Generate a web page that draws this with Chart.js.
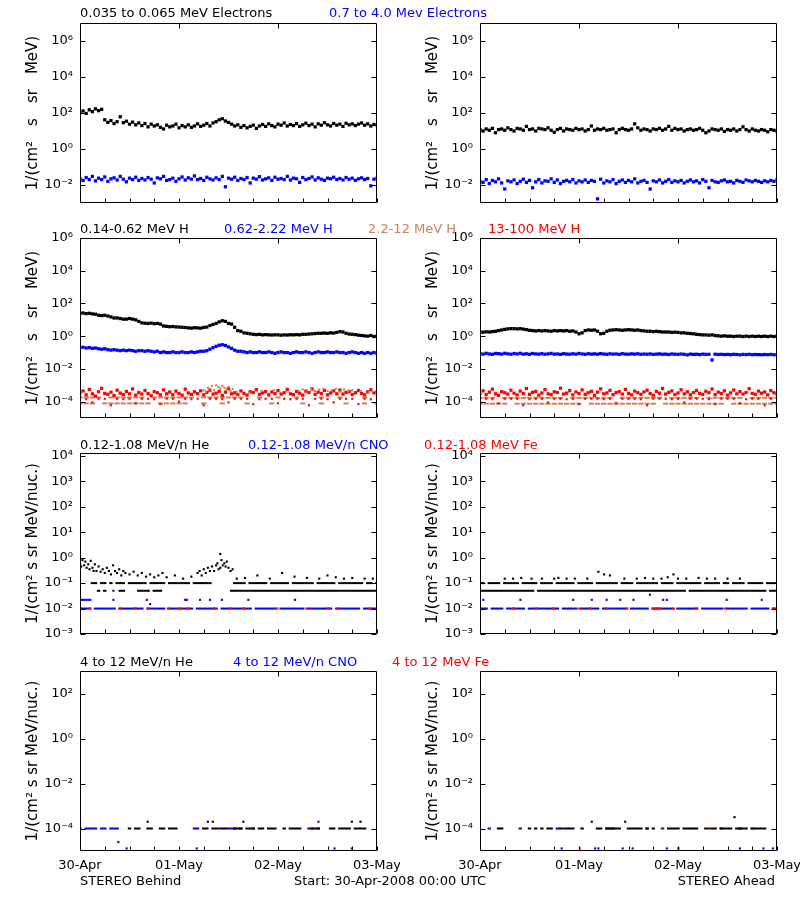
<!DOCTYPE html>
<html>
<head>
<meta charset="utf-8">
<script src="https://cdn.jsdelivr.net/npm/chart.js@4.4.1/dist/chart.umd.min.js"></script>
<style>
  body { margin: 0; background: #fff; }
  #page { position: relative; width: 800px; height: 900px; overflow: hidden;
          font-family: 'DejaVu Sans', sans-serif; font-size: 13px; color: #000; }
  canvas { position: absolute; }
  .lbl { position: absolute; white-space: pre; line-height: 16px; z-index: 2; }
</style>
</head>
<body>
<div id="page">
  <canvas id="c1B" width="400" height="202" style="left:0;top:13px"></canvas>
  <canvas id="c1A" width="400" height="202" style="left:400px;top:13px"></canvas>
  <canvas id="c2B" width="400" height="202" style="left:0;top:228px"></canvas>
  <canvas id="c2A" width="400" height="202" style="left:400px;top:228px"></canvas>
  <canvas id="c3B" width="400" height="203" style="left:0;top:443px"></canvas>
  <canvas id="c3A" width="400" height="203" style="left:400px;top:443px"></canvas>
  <canvas id="c4B" width="400" height="225" style="left:0;top:661px"></canvas>
  <canvas id="c4A" width="400" height="225" style="left:400px;top:661px"></canvas>

  <div class="lbl" style="left:80px;top:5px">0.035 to 0.065 MeV Electrons</div>
  <div class="lbl" style="left:329px;top:5px;color:#0000ff">0.7 to 4.0 Mev Electrons</div>

  <div class="lbl" style="left:80px;top:221px">0.14-0.62 MeV H</div>
  <div class="lbl" style="left:224px;top:221px;color:#0000ff">0.62-2.22 MeV H</div>
  <div class="lbl" style="left:368px;top:221px;color:rgb(205,128,96)">2.2-12 MeV H</div>
  <div class="lbl" style="left:488px;top:221px;color:#ff0000">13-100 MeV H</div>

  <div class="lbl" style="left:80px;top:437px">0.12-1.08 MeV/n He</div>
  <div class="lbl" style="left:248px;top:437px;color:#0000ff">0.12-1.08 MeV/n CNO</div>
  <div class="lbl" style="left:424px;top:437px;color:#ff0000">0.12-1.08 MeV Fe</div>

  <div class="lbl" style="left:80px;top:654px">4 to 12 MeV/n He</div>
  <div class="lbl" style="left:233px;top:654px;color:#0000ff">4 to 12 MeV/n CNO</div>
  <div class="lbl" style="left:392px;top:654px;color:#ff0000">4 to 12 MeV Fe</div>

  <div class="lbl" style="left:80px;top:873px">STEREO Behind</div>
  <div class="lbl" style="left:294px;top:873px">Start: 30-Apr-2008 00:00 UTC</div>
  <div class="lbl" style="right:25px;top:873px">STEREO Ahead</div>
</div>
<script>
// time axis: hours since 30-Apr-2008 00:00
const H = 72;
const dateLabels = ['30-Apr', '01-May', '02-May', '03-May'];
const xTickHours = [0, 6, 12, 18, 24, 30, 36, 42, 48, 54, 60, 66, 72];

// ---- row 1 : electrons (B = Behind, A = Ahead), evenly sampled over the 3 days
const eLowB = [105,130,95,150,120,170,135,160,42,30,38,26,33,62,29,35,24,31,22,28,
  20,26,17,24,19,22,16,13,21,17,19,24,15,20,17,22,16,19,25,18,
  21,26,19,28,33,42,48,36,30,24,19,22,16,20,15,18,21,14,19,23,
  18,25,20,17,24,21,28,19,23,20,26,18,22,27,20,24,17,25,21,29,
  22,19,26,21,24,18,27,22,25,20,24,28,21,25,19,23,22];
const eHighB = [0.022,0.018,0.026,0.02,0.03,0.017,0.024,0.02,0.028,0.016,
  0.022,0.025,0.019,0.03,0.021,0.015,0.024,0.02,0.027,0.018,0.023,0.019,0.026,0.021,0.013,0.025,0.022,0.03,0.018,0.02,
  0.024,0.016,0.022,0.028,0.019,0.025,0.021,0.032,0.02,0.023,0.018,0.027,0.022,0.019,0.025,0.02,0.03,0.008,0.024,0.021,
  0.027,0.018,0.023,0.02,0.026,0.013,0.024,0.021,0.029,0.019,0.022,0.025,0.018,0.027,0.021,0.023,0.02,0.03,0.019,0.024,
  0.022,0.014,0.026,0.02,0.023,0.028,0.019,0.025,0.021,0.018,0.024,0.022,0.027,0.02,0.023,0.019,0.026,0.021,0.024,0.018,
  0.022,0.025,0.02,0.023,0.009,0.021,0.024];
const eLowA = [12,10,13,11,14,8,12,13,11,15,12,10,14,13,11,18,12,13,10,14,
  13,12,15,11,8.5,12,14,10,13,12,11,14,12,13,10,12,19,11,13,12,14,11,12,13,8,12,14,12,11,13,
  25,15,11,13,12,10,13,12,14,11,13,18,11,14,12,13,10,12,13,11,12,14,11,8,10,13,12,11,13,9.5,
  12,11,13,10,12,17,12,10,13,11,10,12,11,9,12,11,10];
const eHighA = [0.016,0.014,0.02,0.012,0.018,0.015,0.022,0.013,0.006,0.017,
  0.015,0.019,0.012,0.016,0.021,0.014,0.018,0.007,0.015,0.02,0.013,0.017,0.016,0.022,0.014,0.019,0.012,0.016,0.018,0.015,
  0.02,0.013,0.017,0.015,0.019,0.014,0.018,0.016,0.0017,0.021,0.013,0.017,0.015,0.02,0.012,0.016,0.019,0.014,0.018,0.015,
  0.022,0.013,0.016,0.018,0.014,0.006,0.017,0.015,0.019,0.013,0.016,0.02,0.014,0.017,0.015,0.018,0.013,0.016,0.019,0.015,
  0.017,0.013,0.02,0.016,0.007,0.018,0.015,0.014,0.017,0.019,0.015,0.016,0.013,0.018,0.016,0.014,0.019,0.017,0.015,0.018,
  0.016,0.014,0.017,0.015,0.018,0.016,0.019];

// ---- row 2 : protons
const hLowB = [25,26,24,25,23,22,19,18,19,17,15,13,13,12,11,11,12,11,10,8,
  6.5,6.2,6,6.3,5.8,6,5.5,4.2,4,3.8,3.9,3.7,3.6,3.5,3.4,3.2,3.1,3.3,3.2,3.1,
  3.4,3.6,4.5,5.2,6,7.5,8.8,8,6,5.5,3.5,2.2,2,1.6,1.5,1.4,1.3,1.25,1.3,1.2,
  1.25,1.2,1.18,1.22,1.2,1.15,1.2,1.18,1.22,1.2,1.25,1.2,1.3,1.3,1.35,1.4,1.45,1.5,1.5,1.55,
  1.5,1.6,1.55,1.7,1.9,1.8,1.5,1.35,1.3,1.25,1.15,1.1,1.05,1.0,1.1,0.95,1.0];
const hMidB = [0.2,0.21,0.19,0.2,0.18,0.19,0.17,0.16,0.17,0.15,0.14,0.15,0.14,0.13,0.14,0.13,0.14,0.13,0.12,0.13,
  0.13,0.12,0.13,0.12,0.11,0.12,0.1,0.11,0.1,0.1,0.11,0.1,0.1,0.11,0.1,0.1,0.11,0.1,0.11,0.12,
  0.12,0.13,0.16,0.2,0.24,0.28,0.3,0.27,0.22,0.18,0.14,0.12,0.12,0.11,0.1,0.11,0.1,0.1,0.11,0.1,
  0.1,0.11,0.1,0.09,0.1,0.11,0.1,0.1,0.09,0.1,0.11,0.1,0.1,0.11,0.1,0.09,0.1,0.11,0.1,0.1,
  0.11,0.1,0.1,0.11,0.1,0.1,0.09,0.1,0.11,0.1,0.09,0.1,0.09,0.1,0.09,0.1,0.09];
const h13B = [3.4e-4,4.5e-4,2.6e-4,5.5e-4,3e-4,2.2e-4,4e-4,6.5e-4,3.2e-4,2.8e-4,
  3.8e-4,2.4e-4,5e-4,3.3e-4,2.7e-4,4.2e-4,3e-4,6e-4,2.5e-4,3.6e-4,
  2.9e-4,4.8e-4,3.1e-4,2.3e-4,4.1e-4,3.5e-4,2.6e-4,5.2e-4,3e-4,3.9e-4,
  2.7e-4,4.4e-4,3.2e-4,2.5e-4,5.8e-4,3.4e-4,2.8e-4,4e-4,3.1e-4,4.6e-4,
  2.6e-4,3.7e-4,5e-4,2.9e-4,3.3e-4,4.3e-4,2.4e-4,3.8e-4,6.2e-4,3e-4,
  3.5e-4,2.7e-4,4.5e-4,3.2e-4,2.5e-4,4e-4,3.6e-4,5.4e-4,2.8e-4,3.4e-4,
  4.1e-4,2.6e-4,3.9e-4,3.1e-4,4.7e-4,2.9e-4,3.5e-4,5.6e-4,3e-4,2.7e-4,
  4.2e-4,3.3e-4,2.5e-4,4.4e-4,3.6e-4,6e-4,2.8e-4,3.8e-4,3.1e-4,4.9e-4,
  2.6e-4,3.4e-4,4.5e-4,3e-4,5.1e-4,2.9e-4,3.7e-4,4.2e-4,2.7e-4,3.5e-4,
  4.8e-4,3.2e-4,2.6e-4,4e-4,5.3e-4,3.4e-4,3.9e-4];
const h13B_floor = [1.5e-4,1.4e-4,9e-5,1.5e-4,1.5e-4,6e-5,1.5e-4,1.4e-4,1.5e-4,8e-5,
  1.5e-4,1.5e-4,1.4e-4,7e-5,1.5e-4,1.5e-4,1e-4,1.5e-4,1.4e-4,1.5e-4,
  6e-5,1.5e-4,1.5e-4,1.4e-4,9e-5,1.5e-4,1.5e-4,1.5e-4,7e-5,1.4e-4,
  1.5e-4,1.5e-4,8e-5,1.5e-4,1.4e-4,1.5e-4,1.5e-4,6e-5,1.5e-4,1.5e-4,
  1.4e-4,9e-5,1.5e-4,1.5e-4,1.5e-4,7e-5,1.5e-4,1.4e-4,1.5e-4];
const h22B_row = [1.8e-4,1.8e-4,1.8e-4,1.8e-4,null,1.8e-4,1.8e-4,1.8e-4,1.8e-4,1.8e-4,
  1.8e-4,null,1.8e-4,1.8e-4,1.8e-4,1.8e-4,1.8e-4,1.8e-4,1.8e-4,null,
  1.8e-4,1.8e-4,1.8e-4,1.8e-4,1.8e-4,1.8e-4,1.8e-4,null,null,1.8e-4,
  null,null,1.8e-4,null,null,1.8e-4,null,null,null,1.8e-4,
  null,null,1.8e-4,null,null,null,1.8e-4,null,null];
const h22B_floor = [7.8e-5,7.8e-5,7.8e-5,null,7.8e-5,7.8e-5,7.8e-5,7.8e-5,7.8e-5,7.8e-5,
  7.8e-5,7.8e-5,null,7.8e-5,7.8e-5,7.8e-5,7.8e-5,7.8e-5,null,null,
  7.8e-5,null,null,7.8e-5,null,null,null,7.8e-5,null,null,
  null,7.8e-5,null,null,null,null,7.8e-5,null,null,7.8e-5,
  null,null,null,7.8e-5,null,null,7.8e-5,null,7.8e-5];
const h22B_t = [30,30.5,31,31.5,32,32.5,33,33.5,34,34.5,35,35.5,36,36.5,37,38,41,44,47,50,
  53,54,55,56,57,58,59,60,61,62,63,64,65,66,68,70];
const h22B_v = [5e-4,4e-4,7e-4,6e-4,9e-4,5e-4,1e-3,8e-4,6.5e-4,9e-4,7e-4,5.5e-4,8e-4,4.5e-4,6e-4,
  4e-4,3.5e-4,4.5e-4,5e-4,4e-4,4.5e-4,5.5e-4,5e-4,6e-4,4.5e-4,5.5e-4,6e-4,4.5e-4,5e-4,6e-4,
  4e-4,5.5e-4,4.5e-4,5e-4,4.5e-4,4e-4];

const hLowA = [1.8,1.75,1.85,1.8,1.9,2.0,2.2,2.4,2.6,2.8,2.9,2.9,2.8,2.9,2.7,2.5,2.3,2.2,2.1,2.2,
  2.1,2.2,2.1,2.0,2.2,2.1,2.2,2.1,2.2,2.0,2.1,1.8,1.4,1.6,2.2,2.4,2.3,2.4,2.0,1.4,
  1.5,2.0,2.3,2.4,2.5,2.4,2.3,2.4,2.5,2.4,2.3,2.4,2.2,2.1,2.0,2.0,1.9,2.0,1.9,1.8,
  1.8,1.8,1.7,1.75,1.7,1.6,1.6,1.5,1.45,1.4,1.3,1.25,1.2,1.2,1.15,1.2,1.1,1.05,1.0,1.05,
  1.0,1.0,0.95,1.0,1.0,0.95,1.0,0.95,1.0,0.95,1.0,0.95,1.0,0.95,1.0,0.95,1.0];
const hMidA = [0.085,0.08,0.09,0.082,0.078,0.088,0.085,0.08,0.09,0.083,
  0.079,0.087,0.082,0.09,0.08,0.084,0.078,0.088,0.082,0.08,0.086,0.079,0.083,0.089,0.08,0.082,0.077,0.085,0.081,0.079,
  0.084,0.08,0.088,0.082,0.078,0.085,0.08,0.083,0.079,0.086,0.081,0.078,0.084,0.08,0.082,0.077,0.085,0.08,0.079,0.083,
  0.08,0.084,0.078,0.081,0.079,0.082,0.077,0.08,0.083,0.078,0.08,0.076,0.082,0.079,0.077,0.081,0.078,0.072,0.08,0.077,
  0.079,0.075,0.08,0.077,0.078,0.035,0.079,0.076,0.078,0.075,0.077,0.074,0.078,0.076,0.073,0.077,0.075,0.078,0.074,0.076,
  0.075,0.073,0.076,0.074,0.077,0.073,0.075];
const h13A = [3.2e-4,4.6e-4,2.7e-4,3.8e-4,5.8e-4,3e-4,2.4e-4,4.1e-4,3.5e-4,2.9e-4,
  5e-4,3.3e-4,2.6e-4,4.4e-4,3.1e-4,6.3e-4,2.8e-4,3.7e-4,4.2e-4,2.5e-4,
  3.4e-4,5.5e-4,3e-4,2.7e-4,4e-4,3.6e-4,6.6e-4,2.9e-4,3.3e-4,4.7e-4,
  2.6e-4,3.9e-4,3.1e-4,5.2e-4,2.8e-4,3.5e-4,4.3e-4,2.4e-4,3.8e-4,6e-4,
  3e-4,3.4e-4,4.9e-4,2.7e-4,3.6e-4,4.1e-4,2.9e-4,5.6e-4,3.2e-4,2.6e-4,
  4.4e-4,3.5e-4,2.8e-4,3.9e-4,5e-4,3.1e-4,2.5e-4,4.2e-4,3.3e-4,6.4e-4,
  2.9e-4,3.7e-4,4.5e-4,2.7e-4,3.4e-4,5.3e-4,3e-4,4e-4,2.6e-4,3.6e-4,
  4.8e-4,3.2e-4,2.8e-4,4.3e-4,3.5e-4,5.9e-4,2.7e-4,3.8e-4,3.1e-4,4.6e-4,
  2.5e-4,3.4e-4,5.1e-4,3e-4,4.1e-4,2.9e-4,3.6e-4,6.2e-4,3.2e-4,2.8e-4,
  4.4e-4,3.3e-4,3.9e-4,2.6e-4,4.7e-4,3.5e-4,3e-4];
const h13A_floor = [1.5e-4,1.5e-4,1.4e-4,8e-5,1.5e-4,1.5e-4,1.5e-4,6e-5,1.4e-4,1.5e-4,
  1.5e-4,9e-5,1.5e-4,1.5e-4,1.4e-4,1.5e-4,7e-5,1.5e-4,1.5e-4,1.5e-4,
  1.4e-4,1.5e-4,8e-5,1.5e-4,1.5e-4,1.5e-4,1.4e-4,6e-5,1.5e-4,1.5e-4,
  1.5e-4,1.4e-4,1.5e-4,9e-5,1.5e-4,1.5e-4,1.5e-4,1.4e-4,7e-5,1.5e-4,
  1.5e-4,1.5e-4,8e-5,1.4e-4,1.5e-4,1.5e-4,6e-5,1.5e-4,1.5e-4];
const h22A_row = [1.7e-4,1.7e-4,1.7e-4,null,1.7e-4,1.7e-4,1.7e-4,1.7e-4,1.7e-4,1.7e-4,
  1.7e-4,1.7e-4,1.7e-4,1.7e-4,null,1.7e-4,1.7e-4,1.7e-4,1.7e-4,1.7e-4,
  1.7e-4,1.7e-4,null,1.7e-4,1.7e-4,1.7e-4,1.7e-4,1.7e-4,1.7e-4,1.7e-4,
  null,1.7e-4,1.7e-4,1.7e-4,1.7e-4,1.7e-4,null,1.7e-4,1.7e-4,1.7e-4,
  1.7e-4,1.7e-4,1.7e-4,null,1.7e-4,1.7e-4,1.7e-4,1.7e-4,1.7e-4];
const h22A_floor = [7.5e-5,7.5e-5,7.5e-5,7.5e-5,7.5e-5,null,7.5e-5,7.5e-5,7.5e-5,7.5e-5,
  7.5e-5,7.5e-5,7.5e-5,7.5e-5,7.5e-5,7.5e-5,7.5e-5,null,7.5e-5,7.5e-5,
  7.5e-5,7.5e-5,7.5e-5,7.5e-5,7.5e-5,7.5e-5,7.5e-5,7.5e-5,7.5e-5,null,
  7.5e-5,7.5e-5,7.5e-5,7.5e-5,7.5e-5,7.5e-5,7.5e-5,7.5e-5,7.5e-5,7.5e-5,
  null,7.5e-5,7.5e-5,7.5e-5,7.5e-5,7.5e-5,7.5e-5,7.5e-5,7.5e-5];

// ---- row 3 : 0.12-1.08 MeV/n heavy ions (count-limited levels)
const heB_row1 = [null,null,null,null,0.1,0.1,null,0.1,0.1,null,
  0.1,null,0.1,0.1,0.1,null,0.1,0.1,0.1,0.1, 0.1,0.1,null,0.1,0.1,0.1,0.1,0.1,null,0.1,
  0.1,0.1,0.1,0.1,0.1,0.1,null,0.1,0.1,0.1, 0.1,0.1,0.1,null,null,null,null,null,null,null,
  0.1,0.1,0.1,0.1,null,0.1,0.1,0.1,0.1,0.1, 0.1,null,0.1,0.1,0.1,0.1,0.1,0.1,null,0.1,
  0.1,0.1,0.1,0.1,0.1,0.1,null,0.1,0.1,0.1, 0.1,0.1,0.1,null,0.1,0.1,0.1,0.1,0.1,0.1,
  0.1,0.1,null,0.1,0.1,null,0.1];
const heB_row2 = [null,null,null,null,null,null,0.05,null,0.05,null,
  null,null,null,0.05,0.05,null,null,null,null,0.05, 0.05,0.05,0.05,null,0.05,0.05,0.05,null,null,null,
  null,null,null,null,null,null,null,null,null,null, null,null,null,null,null,null,null,null,null,0.05,
  0.05,0.05,0.05,0.05,0.05,0.05,0.05,0.05,0.05,0.05, 0.05,0.05,0.05,0.05,0.05,0.05,0.05,0.05,0.05,0.05,
  0.05,0.05,0.05,0.05,0.05,0.05,0.05,0.05,0.05,0.05, 0.05,0.05,0.05,0.05,0.05,0.05,0.05,0.05,0.05,0.05,
  0.05,0.05,0.05,0.05,0.05,0.05,0.05];
const heB_t = [0,0.3,0.6,1,1.3,1.6,2,2.3,2.6,3,3.3,3.6,4,4.5,5,5.5,6,6.5,7,7.5,
  8,8.5,9,9.5,10,10.5,11,12,13,14,15,16,17,18,19,20,21,23,25,27,
  28.5,29,29.5,30,30.5,31,31.5,32,32.5,33,33.3,33.6,34,34,34.3,34.6,35,35.3,35.6,36,
  36.5,37,38,40,43,46,49,52,55,58,60,62,64,66,69,71];
const heB_v = [0.6,0.45,0.8,0.5,0.7,0.4,0.55,0.35,0.75,0.4,0.3,0.55,0.3,0.45,0.28,0.35,0.25,0.4,0.3,0.22,
  0.5,0.3,0.25,0.35,0.2,0.3,0.25,0.22,0.28,0.2,0.25,0.18,0.22,0.17,0.2,0.25,0.17,0.2,0.15,0.18,
  0.25,0.3,0.2,0.35,0.25,0.4,0.3,0.45,0.3,0.5,0.6,0.35,0.4,1.4,0.8,0.5,0.6,0.45,0.7,0.4,
  0.3,0.35,0.15,0.16,0.2,0.15,0.25,0.18,0.16,0.15,0.2,0.17,0.15,0.16,0.15,0.15];
const cnoB_row = [0.01,0.01,0.01,0.01,null,0.01,0.01,0.01,0.01,0.01,
  0.01,0.01,null,0.01,0.01,0.01,0.01,0.01,0.01,0.01, 0.01,null,0.01,0.01,0.01,0.01,0.01,0.01,null,0.01,
  0.01,0.01,0.01,0.01,0.01,0.01,0.01,null,0.01,0.01, 0.01,0.01,0.01,0.01,0.01,null,0.01,0.01,0.01,0.01,
  0.01,0.01,0.01,0.01,0.01,0.01,null,0.01,0.01,0.01, 0.01,0.01,0.01,0.01,null,0.01,0.01,0.01,0.01,0.01,
  0.01,0.01,0.01,null,0.01,0.01,0.01,0.01,0.01,0.01, 0.01,0.01,null,0.01,0.01,0.01,0.01,0.01,0.01,0.01,
  0.01,null,0.01,0.01,0.01,0.01,0.01];
const cnoB_t = [0,0.5,1,1.5,2,2.5,8.1,8.1,16.2,17,25.5,25.9,29.1,31.5,34.4,40.8,52.1];
const cnoB_v = [0.022,0.022,0.022,0.022,0.022,0.022,0.022,0.05,0.022,0.015,0.022,0.022,0.022,0.022,0.022,0.022,0.022];
const feB_t = [2.4,9.7,13.3,16.6,21.4,24.2,26.3,32.7,36.4,39.6,47.7,55,60.2,62.6,70.3];

const heA_row1 = [0.1,0.1,null,0.1,0.1,0.1,0.1,null,0.1,0.1,
  0.1,0.1,0.1,null,0.1,0.1,0.1,0.1,0.1,null, 0.1,0.1,0.1,0.1,null,0.1,0.1,0.1,0.1,0.1,
  0.1,null,0.1,0.1,0.1,0.1,0.1,null,0.1,0.1, 0.1,0.1,0.1,0.1,0.1,null,0.1,0.1,0.1,0.1,
  null,0.1,0.1,0.1,0.1,0.1,0.1,0.1,null,0.1, 0.1,0.1,0.1,null,0.1,0.1,0.1,0.1,0.1,0.1,
  0.1,0.1,null,0.1,0.1,0.1,0.1,0.1,null,0.1, 0.1,null,0.1,0.1,0.1,0.1,null,0.1,0.1,0.1,
  0.1,0.1,null,0.1,0.1,0.1,0.1];
const heA_row2 = [0.05,0.05,0.05,0.05,0.05,0.05,0.05,0.05,0.05,0.05,
  0.05,0.05,0.05,0.05,0.05,0.05,0.05,0.05,null,0.05, 0.05,0.05,0.05,0.05,0.05,0.05,0.05,0.05,0.05,0.05,
  0.05,0.05,0.05,0.05,0.05,0.05,0.05,0.05,0.05,0.05, 0.05,0.05,0.05,0.05,0.05,0.05,0.05,0.05,0.05,0.05,
  0.05,0.05,0.05,0.05,0.05,0.05,0.05,0.05,0.05,0.05, 0.05,0.05,0.05,0.05,0.05,0.05,0.05,null,0.05,0.05,
  0.05,0.05,0.05,0.05,0.05,0.05,0.05,0.05,0.05,0.05, 0.05,0.05,0.05,0.05,0.05,0.05,0.05,0.05,0.05,0.05,
  0.05,0.05,0.05,null,0.05,0.05,0.05];
const heA_t = [6,8,10,12.5,15,18,19,21,23,26,28.7,30.1,31.5,35,38,40,42,44,45.5,46.9,48,50,53,55,57,60,63];
const heA_v = [0.15,0.15,0.16,0.15,0.15,0.15,0.16,0.15,0.15,0.15,0.28,0.22,0.2,0.15,0.15,0.16,0.15,0.15,0.17,0.22,
  0.15,0.15,0.16,0.15,0.15,0.15,0.15];
const cnoA_row = [0.01,0.01,0.01,null,0.01,0.01,0.01,0.01,null,0.01,
  0.01,0.01,0.01,0.01,0.01,null,0.01,0.01,0.01,0.01, 0.01,0.01,0.01,0.01,0.01,0.01,null,0.01,0.01,0.01,
  0.01,0.01,null,0.01,0.01,0.01,0.01,0.01,0.01,null, 0.01,0.01,0.01,0.01,0.01,0.01,0.01,0.01,null,0.01,
  0.01,0.01,0.01,0.01,0.01,null,0.01,0.01,0.01,0.01, 0.01,0.01,0.01,null,0.01,0.01,0.01,0.01,0.01,0.01,
  0.01,null,0.01,0.01,0.01,0.01,0.01,0.01,0.01,null, 0.01,0.01,0.01,0.01,0.01,0.01,0.01,null,0.01,0.01,
  0.01,0.01,0.01,0.01,null,0.01,0.01];
const cnoA_t = [0.8,9.8,22.6,27.1,30.7,34,37.2,41.2,44.4,45.3,59.8,68.3];
const cnoA_v = [0.022,0.022,0.022,0.022,0.022,0.022,0.022,0.035,0.022,0.022,0.022,0.022];
const feA_t = [8.1,13.7,17.8,24.2,26.7,30.7,35.6,42,42.8,43.6,46.9,52.5,59.4,71.1];

// ---- row 4 : 4-12 MeV/n heavy ions
const he4B_row = [null,null,null,null,null,null,null,null,null,null,
  null,null,null,null,null,null,1e-4,null,1e-4,1e-4, null,null,1e-4,1e-4,null,null,1e-4,1e-4,null,1e-4,
  1e-4,1e-4,null,null,null,null,null,null,null,null, 1e-4,1e-4,null,1e-4,1e-4,null,1e-4,1e-4,null,null,
  1e-4,1e-4,1e-4,null,1e-4,1e-4,1e-4,null,1e-4,1e-4, null,1e-4,1e-4,1e-4,null,null,1e-4,null,1e-4,1e-4,
  1e-4,1e-4,null,null,null,1e-4,1e-4,1e-4,null,null, null,1e-4,1e-4,null,1e-4,1e-4,1e-4,1e-4,null,1e-4,
  1e-4,1e-4,1e-4,null,null,null,null];
const he4B_t = [16.4,31,32.2,39.6,65.9,68];
const he4B_v = [2e-4,2e-4,2e-4,2e-4,2e-4,2e-4];
const cno4B_rowT = [0,1.5,2.25,3,3.75,5.25,6,7.5,8.25,9,27.75,28.5,33.75,36,36.75,37.5,39,42,55.5,56.25,57.75];
const cno4B_t = [9.3,11.3,28.3,57.8,61.7,65.9];
const cno4B_v = [2.5e-5,1.3e-5,1.3e-5,2e-4,1.3e-5,1.3e-5];
const fe4B_t = [];
const fe4B_v = [];

const he4A_row = [null,null,null,null,null,null,1e-4,1e-4,null,null,
  null,null,null,null,null,null,1e-4,null,1e-4,null, 1e-4,null,1e-4,1e-4,null,null,1e-4,null,1e-4,1e-4,
  1e-4,null,null,1e-4,null,null,null,null,1e-4,1e-4, null,1e-4,1e-4,1e-4,1e-4,1e-4,null,null,1e-4,1e-4,
  1e-4,1e-4,1e-4,null,1e-4,null,1e-4,null,null,null, null,1e-4,1e-4,1e-4,1e-4,null,1e-4,1e-4,1e-4,1e-4,
  1e-4,null,null,1e-4,null,1e-4,1e-4,null,1e-4,1e-4, 1e-4,1e-4,null,1e-4,1e-4,1e-4,1e-4,null,1e-4,1e-4,
  1e-4,1e-4,1e-4,null,null,null,null];
const he4A_t = [27.1,35.2,61.7];
const he4A_v = [2e-4,2e-4,3.2e-4];
const cno4A_rowT = [2.25,9.75,18.75,20.25,30.75,31.5,32.25,40.5,44.25,55.5,58.5,63,66];
const cno4A_t = [19.8,27.9,28.7,34.6,37,45.3,48.1,63,68.7,71];
const cno4A_v = [1.3e-5,1.3e-5,1.3e-5,1.3e-5,1.3e-5,1.3e-5,1.3e-5,1.3e-5,1.3e-5,1.3e-5];
const fe4A_t = [24.2];
const fe4A_v = [1.3e-5];

const BLACK = '#000000', BLUE = '#0000ff', RED = '#ff0000', SIENNA = 'rgb(205,128,96)';

// samples spread evenly over the 72 hours
function even(vals) {
  const n = vals.length;
  return vals.map((v, i) => ({x: i * H / (n - 1), y: v})).filter(p => p.y != null);
}
function at(ts, vs) {
  return ts.map((t, i) => ({x: t, y: Array.isArray(vs) ? vs[i] : vs}));
}
function dots(data, color, order, r) {
  return {data, order, pointStyle: 'rect', pointRadius: r || 1.5, pointBorderWidth: 0,
          backgroundColor: color, borderColor: color};
}
function dashes(data, color, order, r) {
  return {data, order, pointStyle: 'line', pointRadius: r || 1.7, pointBorderWidth: 2,
          backgroundColor: color, borderColor: color};
}

const SUP = {'-': '⁻', '0': '⁰', '1': '¹', '2': '²', '3': '³', '4': '⁴', '5': '⁵', '6': '⁶', '7': '⁷', '8': '⁸', '9': '⁹'};
function sup(n) { return String(n).split('').map(c => SUP[c]).join(''); }

// IDL style frame with inward ticks
const frame = {
  id: 'frame',
  afterDatasetsDraw(chart) {
    const {ctx, chartArea: a, scales: {x, y}} = chart;
    const L = Math.round(a.left) + 0.5, R = Math.round(a.right) - 0.5;
    const T = Math.round(a.top) + 0.5, B = Math.round(a.bottom) - 0.5;
    ctx.save();
    ctx.strokeStyle = '#000';
    ctx.lineWidth = 1;
    ctx.beginPath();
    ctx.rect(L, T, R - L, B - T);
    y.ticks.forEach(t => {
      const py = Math.round(y.getPixelForValue(t.value)) + 0.5;
      ctx.moveTo(L, py); ctx.lineTo(L + 5, py);
      ctx.moveTo(R, py); ctx.lineTo(R - 5, py);
    });
    x.ticks.forEach(t => {
      const px = Math.round(x.getPixelForValue(t.value)) + 0.5;
      ctx.moveTo(px, B); ctx.lineTo(px, B - 4);
      if (t.value === 24 || t.value === 48) { ctx.moveTo(px, T); ctx.lineTo(px, T + 5); }
    });
    ctx.stroke();
    ctx.restore();
  }
};

Chart.defaults.font.family = "'DejaVu Sans', sans-serif";
Chart.defaults.color = '#000';

function panel(id, yMin, yMax, exps, yTitle, datasets, withDates) {
  return new Chart(document.getElementById(id), {
    type: 'scatter',
    data: {datasets},
    options: {
      responsive: false,
      animation: false,
      devicePixelRatio: 1,
      events: [],
      layout: {padding: {left: 0, right: 23, top: 10, bottom: 0}},
      plugins: {legend: {display: false}, tooltip: {enabled: false}},
      scales: {
        x: {
          type: 'linear', min: 0, max: H,
          grid: {display: false, drawTicks: false}, border: {display: false},
          afterBuildTicks: s => { s.ticks = xTickHours.map(v => ({value: v})); },
          ticks: {
            display: withDates, autoSkip: false, maxRotation: 0, padding: 7,
            font: {size: 13}, color: '#000',
            callback: v => (v % 24 === 0 ? dateLabels[v / 24] : '')
          },
          afterFit: s => { s.height = withDates ? 35 : 12; s.paddingLeft = 0; s.paddingRight = 0; }
        },
        y: {
          type: 'logarithmic', min: yMin, max: yMax,
          grid: {display: false, drawTicks: false}, border: {display: false},
          afterBuildTicks: s => { s.ticks = exps.map(e => ({value: Math.pow(10, e)})); },
          ticks: {
            autoSkip: false, padding: 7, font: {size: 13}, color: '#000',
            callback: v => '10' + sup(Math.round(Math.log10(v)))
          },
          title: {display: true, text: yTitle, font: {size: 15}, color: '#000', padding: {top: 24, bottom: 0}},
          afterFit: s => { s.width = 80; s.paddingTop = 0; s.paddingBottom = 0; }
        }
      }
    },
    plugins: [frame]
  });
}

const T1 = '1/(cm²\u2003s\u2003sr\u2003MeV)';
const T2 = '1/(cm² s sr MeV/nuc.)';
const BAND = 2.3;

panel('c1B', 1e-3, 1e7, [-2, 0, 2, 4, 6], T1,
  [dots(even(eLowB), BLACK, 1, BAND), dots(even(eHighB), BLUE, 2, BAND)], false);
panel('c1A', 1e-3, 1e7, [-2, 0, 2, 4, 6], T1,
  [dots(even(eLowA), BLACK, 1, BAND), dots(even(eHighA), BLUE, 2, BAND)], false);

panel('c2B', 1e-5, 1e6, [-4, -2, 0, 2, 4, 6], T1, [
  dots(even(hLowB), BLACK, 1, BAND), dots(even(hMidB), BLUE, 2, BAND),
  dots(at(h22B_t, h22B_v), SIENNA, 3),
  dots(even(h13B), RED, 4, BAND), dots(even(h13B_floor), RED, 5),
  dashes(even(h22B_row), SIENNA, 6, 2.6), dashes(even(h22B_floor), SIENNA, 7, 2.6)], false);
panel('c2A', 1e-5, 1e6, [-4, -2, 0, 2, 4, 6], T1, [
  dots(even(hLowA), BLACK, 1, BAND), dots(even(hMidA), BLUE, 2, BAND),
  dots(even(h13A), RED, 4, BAND), dots(even(h13A_floor), RED, 5),
  dashes(even(h22A_row), SIENNA, 6, 2.6), dashes(even(h22A_floor), SIENNA, 7, 2.6)], false);

panel('c3B', 1e-3, 1.3e4, [-3, -2, -1, 0, 1, 2, 3, 4], T2, [
  dots(at(heB_t, heB_v), BLACK, 1), dashes(even(heB_row1), BLACK, 2), dashes(even(heB_row2), BLACK, 3),
  dashes(at(feB_t, 0.01), RED, 4),
  dots(at(cnoB_t, cnoB_v), BLUE, 5), dashes(even(cnoB_row), BLUE, 6)], false);
panel('c3A', 1e-3, 1.3e4, [-3, -2, -1, 0, 1, 2, 3, 4], T2, [
  dots(at(heA_t, heA_v), BLACK, 1), dashes(even(heA_row1), BLACK, 2), dashes(even(heA_row2), BLACK, 3),
  dashes(at(feA_t, 0.01), RED, 4),
  dots(at(cnoA_t, cnoA_v), BLUE, 5), dashes(even(cnoA_row), BLUE, 6)], false);

panel('c4B', 1e-5, 1e3, [-4, -2, 0, 2], T2, [
  dots(at(he4B_t, he4B_v), BLACK, 1), dashes(even(he4B_row), BLACK, 2),
  dots(at(fe4B_t, fe4B_v), RED, 3),
  dots(at(cno4B_t, cno4B_v), BLUE, 4), dashes(at(cno4B_rowT, 1e-4), BLUE, 5)], true);
panel('c4A', 1e-5, 1e3, [-4, -2, 0, 2], T2, [
  dots(at(he4A_t, he4A_v), BLACK, 1), dashes(even(he4A_row), BLACK, 2),
  dots(at(fe4A_t, fe4A_v), RED, 3),
  dots(at(cno4A_t, cno4A_v), BLUE, 4), dashes(at(cno4A_rowT, 1e-4), BLUE, 5)], true);
</script>
</body>
</html>
